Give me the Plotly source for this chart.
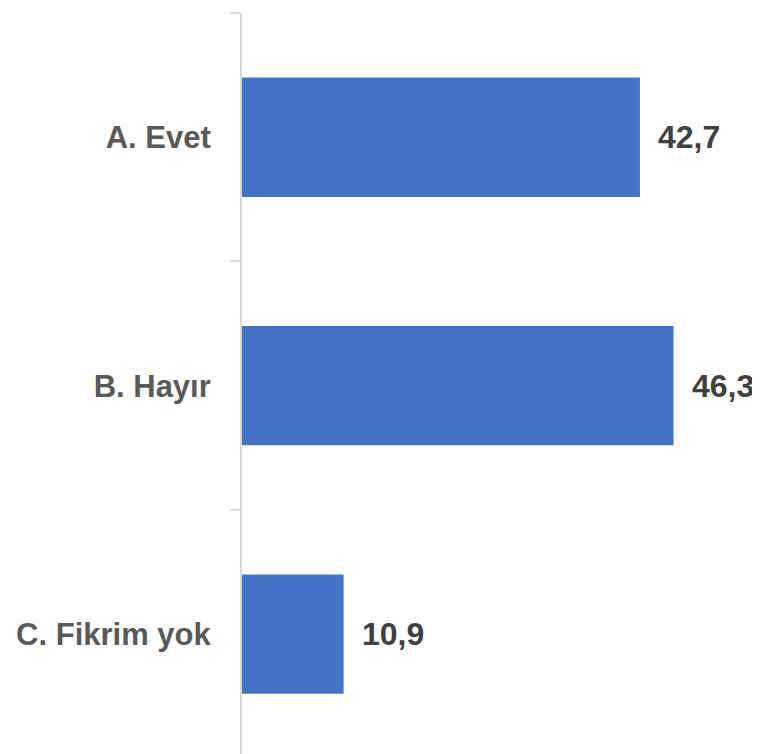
import plotly.graph_objects as go

categories = ["A. Evet", "B. Hayır", "C. Fikrim yok"]
values = [42.7, 46.3, 10.9]
value_labels = ["42,7", "46,3", "10,9"]

fig = go.Figure()
fig.add_trace(go.Bar(
    x=values,
    y=categories,
    orientation="h",
    marker=dict(color="#4472C4", line=dict(width=0)),
    hoverinfo="skip",
))

annotations = []
for cat, v, lab in zip(categories, values, value_labels):
    annotations.append(dict(
        x=v, y=cat, xref="x", yref="y",
        text=f"<b>{lab}</b>",
        showarrow=False,
        xanchor="left", yanchor="middle",
        xshift=16,
        font=dict(family="Liberation Sans, Arial, sans-serif", size=32, color="#404040"),
    ))

fig.update_layout(
    width=752, height=746,
    margin=dict(l=234, r=0, t=5, b=0),
    paper_bgcolor="white",
    plot_bgcolor="white",
    showlegend=False,
    bargap=0.52,
    annotations=annotations,
    xaxis=dict(
        range=[0, 55.58],
        showgrid=False, zeroline=False, showline=False,
        showticklabels=False, ticks="",
    ),
    yaxis=dict(
        type="category",
        categoryorder="array",
        categoryarray=categories,
        range=[2.482, -0.5],
        showgrid=False, zeroline=False,
        showline=True, linecolor="#d9d9d9", linewidth=2,
        ticks="outside", ticklen=10, tickwidth=2, tickcolor="#d9d9d9",
        tickson="boundaries",
        ticklabelstandoff=23,
        tickfont=dict(family="Liberation Sans, Arial, sans-serif", size=31, color="#595959"),
        tickprefix="<b>", ticksuffix="</b>",
    ),
)

fig.write_html("out.html")
